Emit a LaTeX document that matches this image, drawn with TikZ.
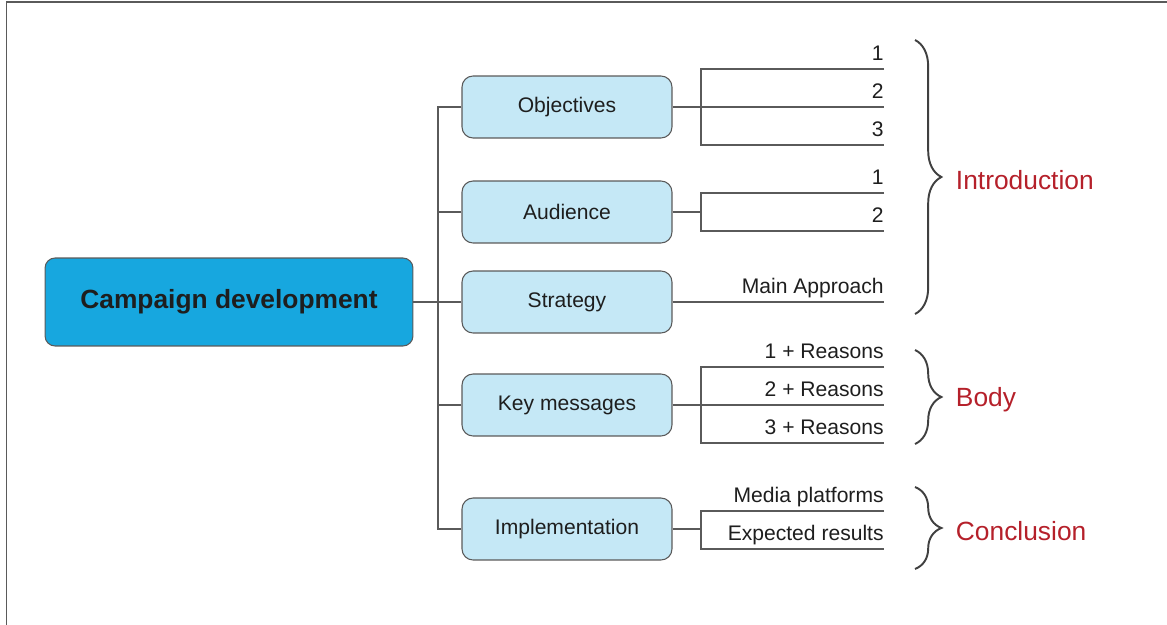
\documentclass[tikz,border=0pt]{standalone}
\usepackage{fontspec}
\setmainfont{Liberation Sans}
\usetikzlibrary{positioning, decorations.pathreplacing}
\usepackage{xcolor}
\definecolor{mainblue}{HTML}{17A7DF}
\definecolor{lightblue}{HTML}{C5E8F6}
\definecolor{linegray}{HTML}{5A5A5A}
\definecolor{sectred}{HTML}{B5202A}
\definecolor{inkgray}{HTML}{1E1E1E}

\begin{document}
\begin{tikzpicture}[x=0.02cm, y=-0.02cm,
    topic/.style={rectangle, rounded corners=0.22cm, draw=linegray, fill=lightblue, line width=0.6pt,
                  minimum width=4.2cm, minimum height=1.24cm, text=inkgray, font=\fontsize{12}{14}\selectfont},
    leaf/.style={anchor=south east, inner xsep=0pt, inner ysep=4.6pt, text depth=0pt,
                 text=inkgray, font=\fontsize{12}{14}\selectfont},
    link/.style={draw=linegray, line width=0.7pt},
    brace/.style={decorate, decoration={brace, amplitude=15pt}, draw=black!75, line width=1.1pt},
    sectlabel/.style={midway, anchor=west, xshift=0.8cm, yshift=-1.5pt, inner sep=0pt, text=sectred,
                      font=\fontsize{15}{18}\selectfont}]
    \useasboundingbox (0,0) rectangle (1167,625);

    % Frame along the top and the left
    \draw[linegray, line width=0.8pt] (6.5,625) -- (6.5,2) -- (1167,2);

    % Define the main topic
    \node[rectangle, rounded corners=0.2cm, draw=linegray, fill=mainblue, line width=0.6pt,
          minimum width=7.36cm, minimum height=1.76cm, text=inkgray,
          font=\fontsize{15}{18}\selectfont\bfseries] (main) at (229,302) {Campaign development};

    % Sub-topics
    \node[topic] (obj) at (567,107) {Objectives};
    \node[topic] (aud) at (567,212) {Audience};
    \node[topic] (strat) at (567,302) {Strategy};
    \node[topic] (keymsg) at (567,405) {Key messages};
    \node[topic] (impl) at (567,529) {Implementation};

    % Spine joining the sub-topics
    \coordinate (spine) at (438,0);
    \coordinate (fork) at (701,0);
    \draw[link] (main.east) -- (strat.west);
    \draw[link] (obj.west) -- (obj.west -| spine) -- (impl.west -| spine) -- (impl.west);
    \draw[link] (aud.west) -- (aud.west -| spine);
    \draw[link] (keymsg.west) -- (keymsg.west -| spine);

    % Objectives
    \node[leaf] (obj1) at (884,69) {1};
    \node[leaf] (obj2) at (884,107) {2};
    \node[leaf] (obj3) at (884,145) {3};
    \draw[link] (obj.east) -- (obj2.south east);
    \draw[link] (obj1.south east) -| (obj3.south east -| fork) -- (obj3.south east);

    % Audience
    \node[leaf] (aud1) at (884,193) {1};
    \node[leaf] (aud2) at (884,231) {2};
    \draw[link] (aud.east) -- (aud.east -| fork);
    \draw[link] (aud1.south east) -| (aud2.south east -| fork) -- (aud2.south east);

    % Strategy
    \node[leaf] (approach) at (884,302) {Main Approach};
    \draw[link] (strat.east) -- (approach.south east);

    % Key messages
    \node[leaf] (msg1) at (884,367) {1 + Reasons};
    \node[leaf] (msg2) at (884,405) {2 + Reasons};
    \node[leaf] (msg3) at (884,443) {3 + Reasons};
    \draw[link] (keymsg.east) -- (msg2.south east);
    \draw[link] (msg1.south east) -| (msg3.south east -| fork) -- (msg3.south east);

    % Implementation
    \node[leaf] (media) at (884,511) {Media platforms};
    \node[leaf] (results) at (884,549) {Expected results};
    \draw[link] (impl.east) -- (impl.east -| fork);
    \draw[link] (media.south east) -| (results.south east -| fork) -- (results.south east);

    % Braces for the parts
    \draw[brace] (915,40) -- node[sectlabel] (intro) {Introduction} (915,314);
    \draw[brace] (915,350) -- node[sectlabel] (body) {Body} (915,444);
    \draw[brace] (915,487) -- node[sectlabel] (concl) {Conclusion} (915,569);
\end{tikzpicture}
\end{document}
